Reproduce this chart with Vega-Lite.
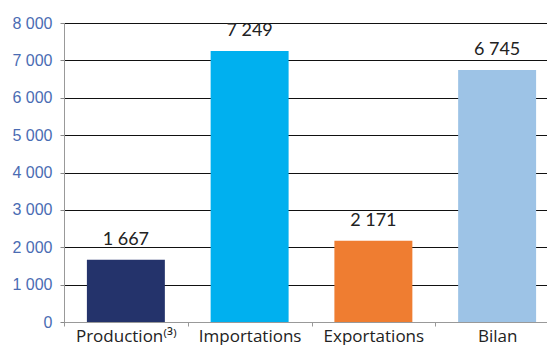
{
  "$schema": "https://vega.github.io/schema/vega-lite/v6.json",
  "autosize": "none",
  "padding": {"left": 64, "top": 23, "right": 0, "bottom": 23},
  "width": 495,
  "height": 299,
  "config": {
    "view": {"stroke": null},
    "locale": {"number": {"decimal": ",", "thousands": " ", "grouping": [3], "currency": ["", " €"]}}
  },
  "data": {"values": [
    {"cat": "Production⁽³⁾", "value": 1667},
    {"cat": "Importations", "value": 7249},
    {"cat": "Exportations", "value": 2171},
    {"cat": "Bilan", "value": 6745}
  ]},
  "encoding": {
    "x": {"field": "cat", "type": "nominal", "sort": null,
      "scale": {"paddingInner": 0, "paddingOuter": 0},
      "axis": {"title": null, "labelAngle": 0, "labelFont": "Open Sans", "labelFontSize": 17, "labelColor": "#222",
        "labelBaseline": "alphabetic",
        "domainColor": "#999", "tickColor": "#999", "tickSize": 4, "tickBand": "extent", "labelPadding": 15, "grid": false}},
    "y": {"field": "value", "type": "quantitative",
      "scale": {"domain": [0, 8000]},
      "axis": {"title": null, "values": [0,1000,2000,3000,4000,5000,6000,7000,8000], "format": ",d",
        "labelFont": "Liberation Sans", "labelFontSize": 16, "labelColor": "#4a6cb3", "labelPadding": 8,
        "tickSize": 4, "tickColor": "#888", "domainColor": "#999",
        "gridColor": "#111", "gridWidth": 1}}
  },
  "layer": [
    {"mark": {"type": "bar", "width": {"band": 0.63}},
      "encoding": {"color": {"field": "cat", "type": "nominal", "legend": null,
        "scale": {"domain": ["Production⁽³⁾", "Importations", "Exportations", "Bilan"],
          "range": ["#24336b", "#00b0ef", "#ef7d31", "#9dc3e6"]}}}},
    {"mark": {"type": "text", "font": "Lato", "fontSize": 18, "color": "#222", "dy": -15, "baseline": "alphabetic"},
      "encoding": {"text": {"field": "value", "type": "quantitative", "format": ",d"}}}
  ]
}
